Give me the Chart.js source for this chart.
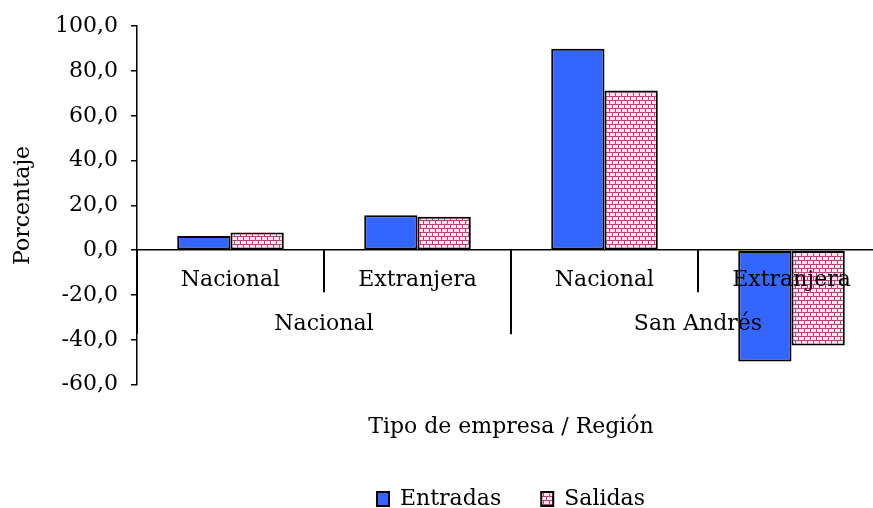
<!DOCTYPE html>
<html>
<head>
<meta charset="utf-8">
<script src="https://cdn.jsdelivr.net/npm/chart.js@4/dist/chart.umd.min.js"></script>
<style>
  html, body { margin: 0; padding: 0; background: #fff; overflow: hidden; }
  #wrap { position: relative; width: 890px; height: 508px; }
</style>
</head>
<body>
<div id="wrap"><canvas id="chart"></canvas></div>
<script>
// Datos
const categorias = ['Nacional', 'Extranjera', 'Nacional', 'Extranjera'];
const regiones = ['Nacional', 'San Andrés'];
const entradas = [6.3, 15.6, 89.9, -49.7];
const salidas = [7.9, 14.9, 71.3, -42.6];

const FUENTE = "'DejaVu Serif', 'Liberation Serif', serif";
const TAM = 22;

// patrón tipo ladrillo para "Salidas"
function patronLadrillo() {
    const c = document.createElement('canvas');
    c.width = 6;
    c.height = 8;
    const g = c.getContext('2d');
    g.fillStyle = '#f7e4ee';
    g.fillRect(0, 0, 6, 8);
    g.fillStyle = '#b04578';
    g.fillRect(0, 0, 6, 1);
    g.fillRect(0, 4, 6, 1);
    g.fillRect(0, 1, 1, 3);
    g.fillRect(3, 5, 1, 3);
    return g.createPattern(c, 'repeat');
}

// separadores y etiquetas de región bajo el eje
const regionesPlugin = {
    id: 'regiones',
    afterDraw(chart) {
        const x = chart.scales.x;
        const y = chart.scales.y;
        const ctx = chart.ctx;
        const cero = y.getPixelForValue(0);
        const n = categorias.length;
        const bordes = [];
        for (let i = 0; i <= n; i++) {
            if (i === 0) bordes.push(x.left);
            else if (i === n) bordes.push(x.right);
            else bordes.push((x.getPixelForTick(i - 1) + x.getPixelForTick(i)) / 2);
        }
        ctx.save();
        ctx.strokeStyle = '#000';
        ctx.lineWidth = 2;
        bordes.forEach((bx, i) => {
            const largo = i % 2 === 0 ? 84 : 42;
            ctx.beginPath();
            ctx.moveTo(bx, cero);
            ctx.lineTo(bx, cero + largo);
            ctx.stroke();
        });
        ctx.fillStyle = '#000';
        ctx.font = TAM + 'px ' + FUENTE;
        ctx.textAlign = 'center';
        ctx.textBaseline = 'middle';
        regiones.forEach((r, k) => {
            const cx = (bordes[k * 2] + bordes[k * 2 + 2]) / 2;
            ctx.fillText(r, cx, cero + 74);
        });
        ctx.restore();
    }
};

const ctx = document.getElementById('chart').getContext('2d');

new Chart(ctx, {
    type: 'bar',
    plugins: [regionesPlugin],
    data: {
        labels: categorias,
        datasets: [
            {
                label: 'Entradas',
                data: entradas,
                backgroundColor: '#3366ff',
                borderColor: '#000',
                borderWidth: 2,
                borderSkipped: false
            },
            {
                label: 'Salidas',
                data: salidas,
                backgroundColor: patronLadrillo(),
                borderColor: '#000',
                borderWidth: 2,
                borderSkipped: false
            }
        ]
    },
    options: {
        responsive: true,
        maintainAspectRatio: false,
        animation: false,
        datasets: {
            bar: { categoryPercentage: 0.57, barPercentage: 1.0 }
        },
        layout: {
            padding: { left: 10, top: 24, right: 5, bottom: -12 }
        },
        plugins: {
            tooltip: { enabled: false },
            legend: {
                position: 'bottom',
                fullSize: false,
                title: {
                    display: true,
                    text: 'Tipo de empresa / Región',
                    color: '#000',
                    font: { family: FUENTE, size: TAM },
                    padding: { top: 32, bottom: 5 }
                },
                labels: {
                    color: '#000',
                    font: { family: FUENTE, size: TAM },
                    boxWidth: 12,
                    boxHeight: 14,
                    padding: 40
                }
            }
        },
        scales: {
            x: {
                position: { y: 0 },
                grid: { display: false },
                border: { display: true, color: '#000', width: 1.5 },
                ticks: {
                    z: 1,
                    color: '#000',
                    font: { family: FUENTE, size: TAM },
                    padding: 9,
                    maxRotation: 0,
                    autoSkip: false
                }
            },
            y: {
                min: -60,
                max: 100,
                afterFit: (s) => { s.width = 127; },
                grid: {
                    drawOnChartArea: false,
                    color: '#000',
                    tickLength: 6,
                    lineWidth: 1.5
                },
                border: { display: true, color: '#000', width: 1.5 },
                ticks: {
                    stepSize: 20,
                    padding: 13,
                    color: '#000',
                    font: { family: FUENTE, size: TAM },
                    callback: (v) => v.toFixed(1).replace('.', ',')
                },
                title: {
                    display: true,
                    text: 'Porcentaje',
                    color: '#000',
                    font: { family: FUENTE, size: TAM },
                    padding: { top: 0, bottom: 20 }
                }
            }
        }
    }
});
</script>
</body>
</html>
